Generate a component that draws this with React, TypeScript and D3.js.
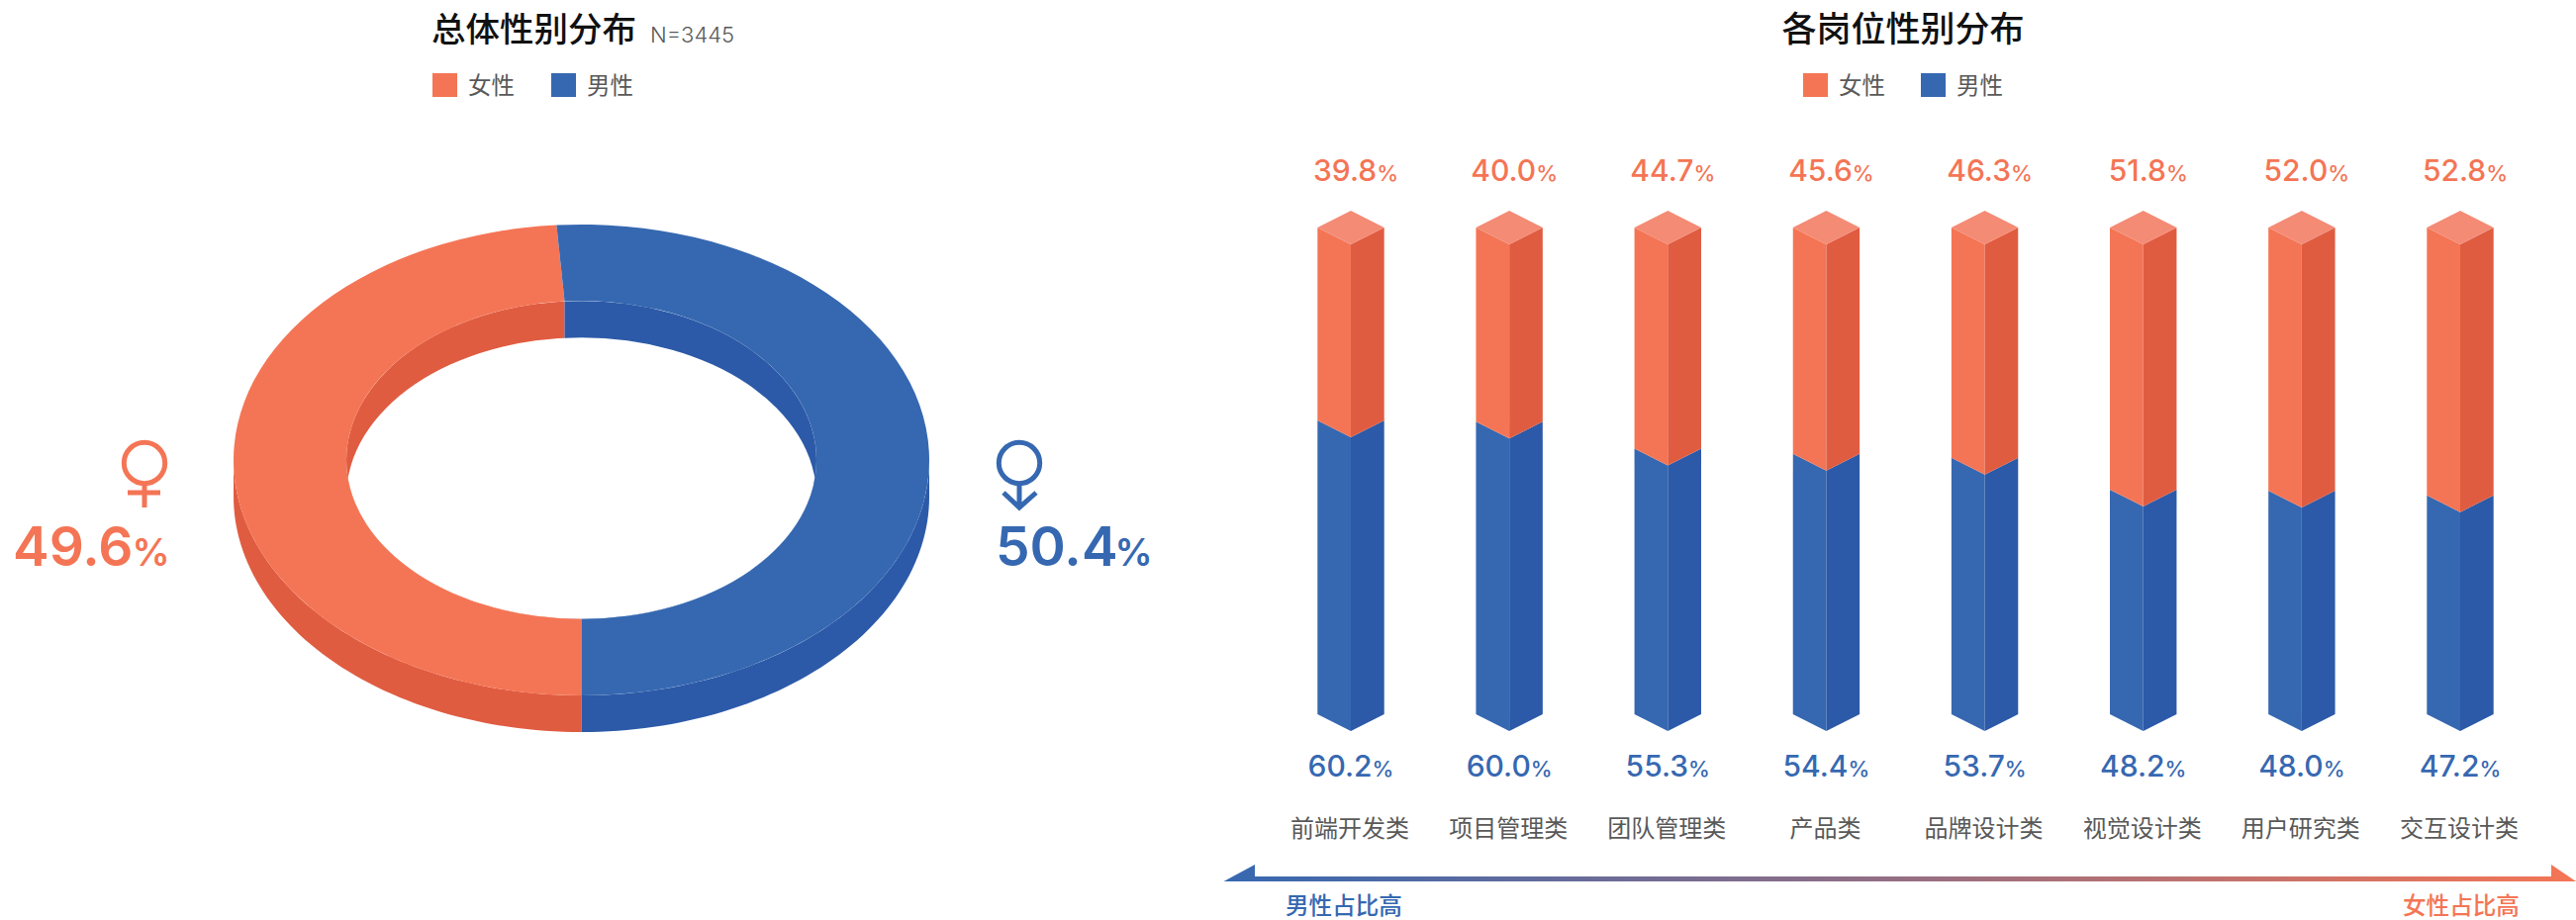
import * as d3 from "d3";

const width = 2603;
const height = 930;

const legendLabels = ["女性", "男性"];
const jobCategories = ["前端开发类", "项目管理类", "团队管理类", "产品类", "品牌设计类", "视觉设计类", "用户研究类", "交互设计类"];
const femaleShares = [39.8, 40.0, 44.7, 45.6, 46.3, 51.8, 52.0, 52.8];
const maleShares = [60.2, 60.0, 55.3, 54.4, 53.7, 48.2, 48.0, 47.2];
const overallShares = [49.6, 50.4];
// the ring is drawn a little off its labels, so the slice sizes are read from the shape
const ringSlices = [48.86, 51.14];

const colors = {
  female: "#f47555",
  femaleDark: "#e05c41",
  femaleLight: "#f48b75",
  male: "#3668b1",
  maleDark: "#2c5aa8",
  text: "#595959"
};
const cjk = "'Noto Sans CJK SC', sans-serif";
const num = "Inter, 'Noto Sans', sans-serif";

// donut
const cx = 587.5;
const cy = 465;
const outerR = 351.5;
const innerR = 237.5;
const squash = 238 / 351.5;
const depth = 37;

function wallPath(a0: number, a1: number) {
  const angles = d3.range(0, 61).map((i) => a0 + ((a1 - a0) * i) / 60);
  const top = angles.map((a) => [cx + outerR * Math.sin(a), cy - outerR * squash * Math.cos(a)] as [number, number]);
  const bottom = top.map(([x, y]) => [x, y + depth] as [number, number]).reverse();
  return d3.line()([...top, ...bottom]) + "Z";
}

function Donut() {
  const pie = d3.pie<number>().sort(null).startAngle(Math.PI).endAngle(3 * Math.PI);
  const slices = pie(ringSlices);
  const ring = d3.arc<d3.PieArcDatum<number>>().innerRadius(innerR).outerRadius(outerR);
  const faces = [colors.female, colors.male];
  const flat = `translate(${cx},${cy}) scale(1,${squash})`;
  const innerRy = innerR * squash;
  // inner wall changes colour on a straight vertical edge below the slice boundary
  const wallSplitX = cx + innerR * Math.sin(slices[0].endAngle);
  return (
    <g>
      <defs>
        <clipPath id="hole-clip">
          <ellipse cx={cx} cy={cy} rx={innerR} ry={innerRy} />
        </clipPath>
      </defs>
      <path d={wallPath(Math.PI, 1.5 * Math.PI)} fill={colors.femaleDark} />
      <path d={wallPath(0.5 * Math.PI, Math.PI)} fill={colors.maleDark} />
      <g clipPath="url(#hole-clip)">
        <rect x={cx - innerR} y={cy - innerRy} width={wallSplitX - cx + innerR} height={innerRy * 2} fill={colors.femaleDark} />
        <rect x={wallSplitX} y={cy - innerRy} width={cx + innerR - wallSplitX} height={innerRy * 2} fill={colors.maleDark} />
        <ellipse cx={cx} cy={cy + depth} rx={innerR} ry={innerRy} fill="#fff" />
      </g>
      <g transform={flat}>
        {slices.map((s, i) => (
          <path key={i} d={ring(s) ?? undefined} fill={faces[i]} />
        ))}
      </g>
    </g>
  );
}

function Legend({ x1, x2 }: { x1: number; x2: number }) {
  return (
    <g>
      {legendLabels.map((label, i) => {
        const x = i === 0 ? x1 : x2;
        return (
          <g key={label}>
            <rect x={x} y={74} width={25} height={24} fill={i === 0 ? colors.female : colors.male} />
            <text x={x + 36} y={95} fontFamily={cjk} fontSize={23.5} fill={colors.text}>{label}</text>
          </g>
        );
      })}
    </g>
  );
}

function Pct({ x, y, value, color, size, small, anchor = "middle", gap = 0, weight = 500 }: { x: number; y: number; value: number; color: string; size: number; small: number; anchor?: string; gap?: number; weight?: number }) {
  return (
    <text x={x} y={y} textAnchor={anchor as "middle"} fontFamily={num} fontWeight={weight} fontSize={size} fill={color} stroke="none">
      {value.toFixed(1)}
      <tspan fontSize={small} dx={gap}>%</tspan>
    </text>
  );
}

function GenderLabels() {
  return (
    <g fill="none" strokeWidth={5}>
      <g stroke={colors.female}>
        <circle cx={146} cy={468} r={20.7} />
        <path d="M146 491V513M129 498H162" />
      </g>
      <Pct x={13} y={572} value={overallShares[0]} color={colors.female} size={55} small={38} anchor="start" gap={-1} weight={600} />
      <g stroke={colors.male}>
        <circle cx={1030} cy={468} r={20.7} />
        <path d="M1030 491V513M1014 498L1030 513L1047 498" />
      </g>
      <Pct x={1006} y={572} value={overallShares[1]} color={colors.male} size={55} small={38} anchor="start" gap={-3} weight={600} />
    </g>
  );
}

function Bars() {
  const x = d3.scalePoint<string>().domain(jobCategories).range([1365, 2486]);
  const splitY = d3.scaleLinear([39.8, 52.8], [425, 500.7]);
  const halfW = 33.7;
  const topY = 230;
  const bottomY = 722;
  const rise = 17;
  const poly = d3.line();
  return (
    <g>
      {jobCategories.map((name, i) => {
        const cxBar = x(name) ?? 0;
        const left = cxBar - halfW;
        const right = cxBar + halfW;
        const mid = splitY(femaleShares[i]);
        return (
          <g key={name}>
            <path d={poly([[left, mid], [cxBar, mid + rise], [cxBar, bottomY + rise], [left, bottomY]]) + "Z"} fill={colors.male} />
            <path d={poly([[right, mid], [cxBar, mid + rise], [cxBar, bottomY + rise], [right, bottomY]]) + "Z"} fill={colors.maleDark} />
            <path d={poly([[left, topY], [cxBar, topY + rise], [cxBar, mid + rise], [left, mid]]) + "Z"} fill={colors.female} />
            <path d={poly([[right, topY], [cxBar, topY + rise], [cxBar, mid + rise], [right, mid]]) + "Z"} fill={colors.femaleDark} />
            <path d={poly([[left, topY], [cxBar, topY - rise], [right, topY], [cxBar, topY + rise]]) + "Z"} fill={colors.femaleLight} />
            <Pct x={cxBar + 5} y={183} value={femaleShares[i]} color={colors.female} size={30} small={22} />
            <Pct x={cxBar} y={785} value={maleShares[i]} color={colors.male} size={30} small={22} />
            <text x={cxBar - 1} y={846} textAnchor="middle" fontFamily={cjk} fontSize={24} fill={colors.text}>{name}</text>
          </g>
        );
      })}
    </g>
  );
}

export default function App() {
  return (
    <svg width={width} height={height} viewBox={`0 0 ${width} ${height}`} style={{ position: "absolute", left: 0, top: 0, display: "block", background: "#fff" }}>
      <defs>
        <linearGradient id="arrow-gradient" x1="0" x2="1" y1="0" y2="0">
          <stop offset="0%" stopColor={colors.male} />
          <stop offset="100%" stopColor={colors.female} />
        </linearGradient>
      </defs>

      <text x={436} y={42} fontFamily={cjk} fontWeight={500} fontSize={34.5} fill="#111">总体性别分布</text>
      <text x={657} y={43} fontFamily={num} fontWeight={300} fontSize={22} fill={colors.text}>N=3445</text>
      <Legend x1={437} x2={557} />
      <Donut />
      <GenderLabels />

      <text x={1923} y={42} textAnchor="middle" fontFamily={cjk} fontWeight={500} fontSize={35} fill="#111">各岗位性别分布</text>
      <Legend x1={1822} x2={1941} />
      <Bars />

      <path d="M1236.5 891L1268 874V886H2578V874L2603 891Z" fill="url(#arrow-gradient)" />
      <text x={1299} y={924} fontFamily={cjk} fontWeight={500} fontSize={23.6} fill={colors.male}>男性占比高</text>
      <text x={2428} y={924} fontFamily={cjk} fontWeight={500} fontSize={23.6} fill={colors.female}>女性占比高</text>
    </svg>
  );
}
